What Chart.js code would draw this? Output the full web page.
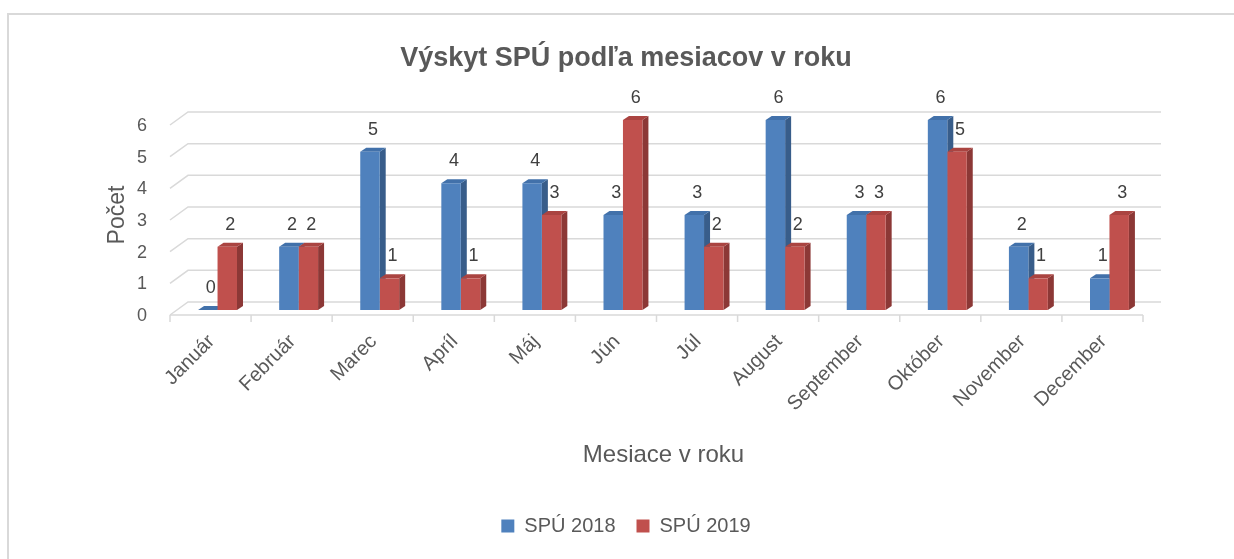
<!DOCTYPE html>
<html>
<head>
<meta charset="utf-8">
<script src="https://cdn.jsdelivr.net/npm/chart.js@4.4.1/dist/chart.umd.min.js"></script>
<style>
  body { margin: 0; background: #fff; }
  #wrap { position: relative; width: 1234px; height: 559px; overflow: hidden; }
  #frame { position: absolute; left: 7px; top: 13px; width: 1260px; height: 600px; border: 2px solid #d9d9d9; }
  #myChart { position: absolute; left: 0; top: 0; }
</style>
</head>
<body>
<div id="wrap">
  <div id="frame"></div>
  <canvas id="myChart" width="1234" height="559"></canvas>
</div>
<script>
// --- Data ---
const months = ["Január", "Február", "Marec", "Apríl", "Máj", "Jún", "Júl",
  "August", "September", "Október", "November", "December"];
const spu2018 = [0, 2, 5, 4, 4, 3, 3, 6, 3, 6, 2, 1];
const spu2019 = [2, 2, 1, 1, 3, 6, 2, 2, 3, 5, 1, 3];
const yTicks = [0, 1, 2, 3, 4, 5, 6];

const FONT = "'Liberation Sans', Arial, sans-serif";
const TEXT = '#595959';

// 3D look: front edge offset and back wall offset from the bar plane
const FRONT = { dx: -7, dy: 5 };
const BACK = { dx: 11, dy: -8 };
const DEPTH = { dx: 6, dy: -4 };

// --- Gridlines, floor and bar side/top faces (drawn before the bar fronts) ---
const threeD = {
  id: 'threeD',
  beforeDatasetsDraw(chart) {
    const c = chart.ctx;
    const y = chart.scales.y, x = chart.scales.x;
    const area = chart.chartArea;
    c.save();
    c.strokeStyle = '#d9d9d9';
    c.lineWidth = 1.5;
    yTicks.forEach(v => {
      const py = y.getPixelForValue(v);
      c.beginPath();
      c.moveTo(area.left + FRONT.dx, py + FRONT.dy);
      c.lineTo(area.left + BACK.dx, py + BACK.dy);
      c.lineTo(area.right + BACK.dx, py + BACK.dy);
      c.stroke();
    });
    // front floor edge + category ticks
    const fy = area.bottom + FRONT.dy;
    c.beginPath();
    c.moveTo(area.left + FRONT.dx, fy);
    c.lineTo(area.right + FRONT.dx, fy);
    const w = (x.right - x.left) / months.length;
    for (let i = 0; i <= months.length; i++) {
      const bx = x.left + i * w + FRONT.dx;
      c.moveTo(bx, fy);
      c.lineTo(bx, fy + 7);
    }
    c.stroke();

    const sides = ['#385d8a', '#8c3836'];
    const tops = ['#4271aa', '#aa4441'];
    chart.data.datasets.forEach((ds, di) => {
      chart.getDatasetMeta(di).data.forEach(bar => {
        const x0 = bar.x - bar.width / 2, x1 = bar.x + bar.width / 2;
        const top = bar.y, base = bar.base;
        // side face
        c.fillStyle = sides[di];
        c.beginPath();
        c.moveTo(x1, top);
        c.lineTo(x1 + DEPTH.dx, top + DEPTH.dy);
        c.lineTo(x1 + DEPTH.dx, base + DEPTH.dy);
        c.lineTo(x1, base);
        c.closePath();
        c.fill();
        // top face
        c.fillStyle = tops[di];
        c.beginPath();
        c.moveTo(x0, top);
        c.lineTo(x0 + DEPTH.dx, top + DEPTH.dy);
        c.lineTo(x1 + DEPTH.dx, top + DEPTH.dy);
        c.lineTo(x1, top);
        c.closePath();
        c.fill();
      });
    });
    c.restore();
  },
  afterDatasetsDraw(chart) {
    const c = chart.ctx;
    c.save();
    c.font = '18px ' + FONT;
    c.fillStyle = '#404040';
    c.textAlign = 'center';
    c.textBaseline = 'middle';
    chart.data.datasets.forEach((ds, di) => {
      chart.getDatasetMeta(di).data.forEach((bar, i) => {
        c.fillText(String(ds.data[i]), bar.x + 3, bar.y - 22);
      });
    });
    c.restore();
  }
};

const ctx = document.getElementById('myChart').getContext('2d');
const chart = new Chart(ctx, {
  type: 'bar',
  data: {
    labels: months,
    datasets: [
      { label: 'SPÚ 2018', data: spu2018, backgroundColor: '#4f81bd' },
      { label: 'SPÚ 2019', data: spu2019, backgroundColor: '#c0504d' }
    ]
  },
  options: {
    responsive: false,
    animation: false,
    layout: { padding: { top: 0, left: 102, right: 84, bottom: 13 } },
    datasets: { bar: { categoryPercentage: 0.48, barPercentage: 1 } },
    plugins: {
      title: {
        display: true,
        text: 'Výskyt SPÚ podľa mesiacov v roku',
        color: TEXT,
        font: { family: FONT, size: 27, weight: 'bold' },
        padding: { top: 42.8, bottom: 44.8 }
      },
      legend: {
        position: 'bottom',
        labels: {
          color: TEXT,
          font: { family: FONT, size: 20 },
          boxWidth: 13,
          boxHeight: 13,
          padding: 21
        }
      },
      tooltip: { enabled: false }
    },
    scales: {
      x: {
        grid: { display: false, drawTicks: false },
        border: { display: false },
        ticks: {
          color: TEXT,
          font: { family: FONT, size: 20 },
          maxRotation: 45,
          minRotation: 45,
          padding: 20,
          labelOffset: -6
        },
        title: {
          display: true,
          text: 'Mesiace v roku',
          color: TEXT,
          font: { family: FONT, size: 24 },
          padding: { top: 0, bottom: 25.6 }
        },
        afterFit(scale) { scale.height = 185; }
      },
      y: {
        min: 0,
        max: 6,
        grid: { display: false, drawTicks: false },
        border: { display: false },
        ticks: {
          stepSize: 1,
          color: TEXT,
          font: { family: FONT, size: 18 },
          padding: 30,
          labelOffset: 6
        },
        title: {
          display: true,
          text: 'Počet',
          color: TEXT,
          font: { family: FONT, size: 23 },
          padding: { top: 2.2, bottom: 0 }
        },
        afterFit(scale) { scale.width = 75; }
      }
    }
  },
  plugins: [threeD]
});
</script>
</body>
</html>
